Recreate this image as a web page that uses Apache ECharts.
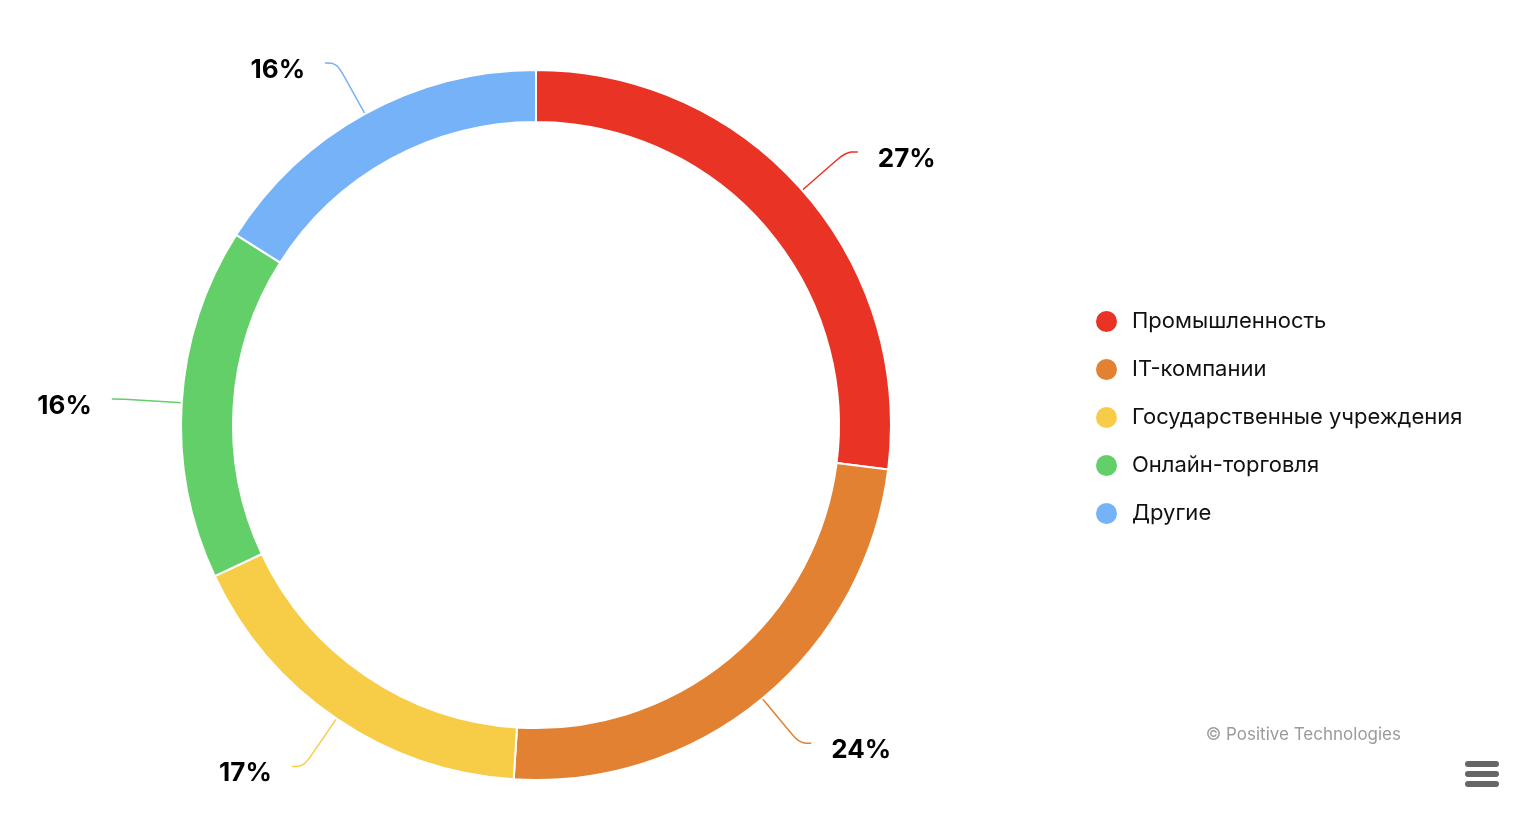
<!DOCTYPE html>
<html>
<head>
<meta charset="utf-8">
<script src="https://cdn.jsdelivr.net/npm/echarts@6/dist/echarts.min.js"></script>
<style>
html,body{margin:0;padding:0;background:#fff;}
#chart{width:1540px;height:828px;}
</style>
</head>
<body>
<div id="chart"></div>
<script>
const categories = ['Промышленность', 'IT-компании', 'Государственные учреждения', 'Онлайн-торговля', 'Другие'];
const values = [27, 24, 17, 16, 16];
const colors = ['#E93325', '#E38132', '#F7CD47', '#62CF69', '#76B2F7'];
const credit = '© Positive Technologies';

const FONT = 'Inter, "Noto Sans", sans-serif';
const chart = echarts.init(document.getElementById('chart'), null, {renderer: 'canvas'});
chart.setOption({
  backgroundColor: '#ffffff',
  animation: false,
  color: colors,
  legend: {
    orient: 'vertical',
    left: 1094,
    top: 309,
    padding: 0,
    icon: 'circle',
    itemWidth: 23,
    itemHeight: 23,
    itemGap: 23,
    textStyle: {fontFamily: FONT, fontSize: 22, color: '#111', padding: [0, 0, 0, 9]},
    data: categories
  },
  graphic: [
    {
      type: 'text', right: 139, top: 726,
      style: {text: credit, font: '17px ' + FONT, fill: '#9a9a9a'}
    },
    {
      type: 'group', left: 1465, top: 761,
      children: [0, 1, 2].map(i => ({
        type: 'rect', shape: {x: 0, y: i * 10, width: 34, height: 6, r: 3},
        style: {fill: '#666'}
      }))
    }
  ],
  series: [{
    type: 'pie',
    center: [536, 425],
    radius: [303, 355],
    startAngle: 90,
    clockwise: true,
    avoidLabelOverlap: false,
    itemStyle: {borderColor: '#fff', borderWidth: 2},
    label: {
      show: true,
      formatter: '{v|{c}%}',
      rich: {
        v: {
          fontFamily: FONT,
          fontSize: 26,
          fontWeight: 'bold',
          color: '#000',
          padding: [14, 0, 0, 0]
        }
      },
      distanceToLabelLine: 20
    },
    labelLine: {
      show: true,
      length: 58,
      length2: 12,
      smooth: 0.4,
      lineStyle: {width: 1.5}
    },
    emphasis: {disabled: true},
    data: categories.map((n, i) => ({name: n, value: values[i]}))
  }]
});
</script>
</body>
</html>
